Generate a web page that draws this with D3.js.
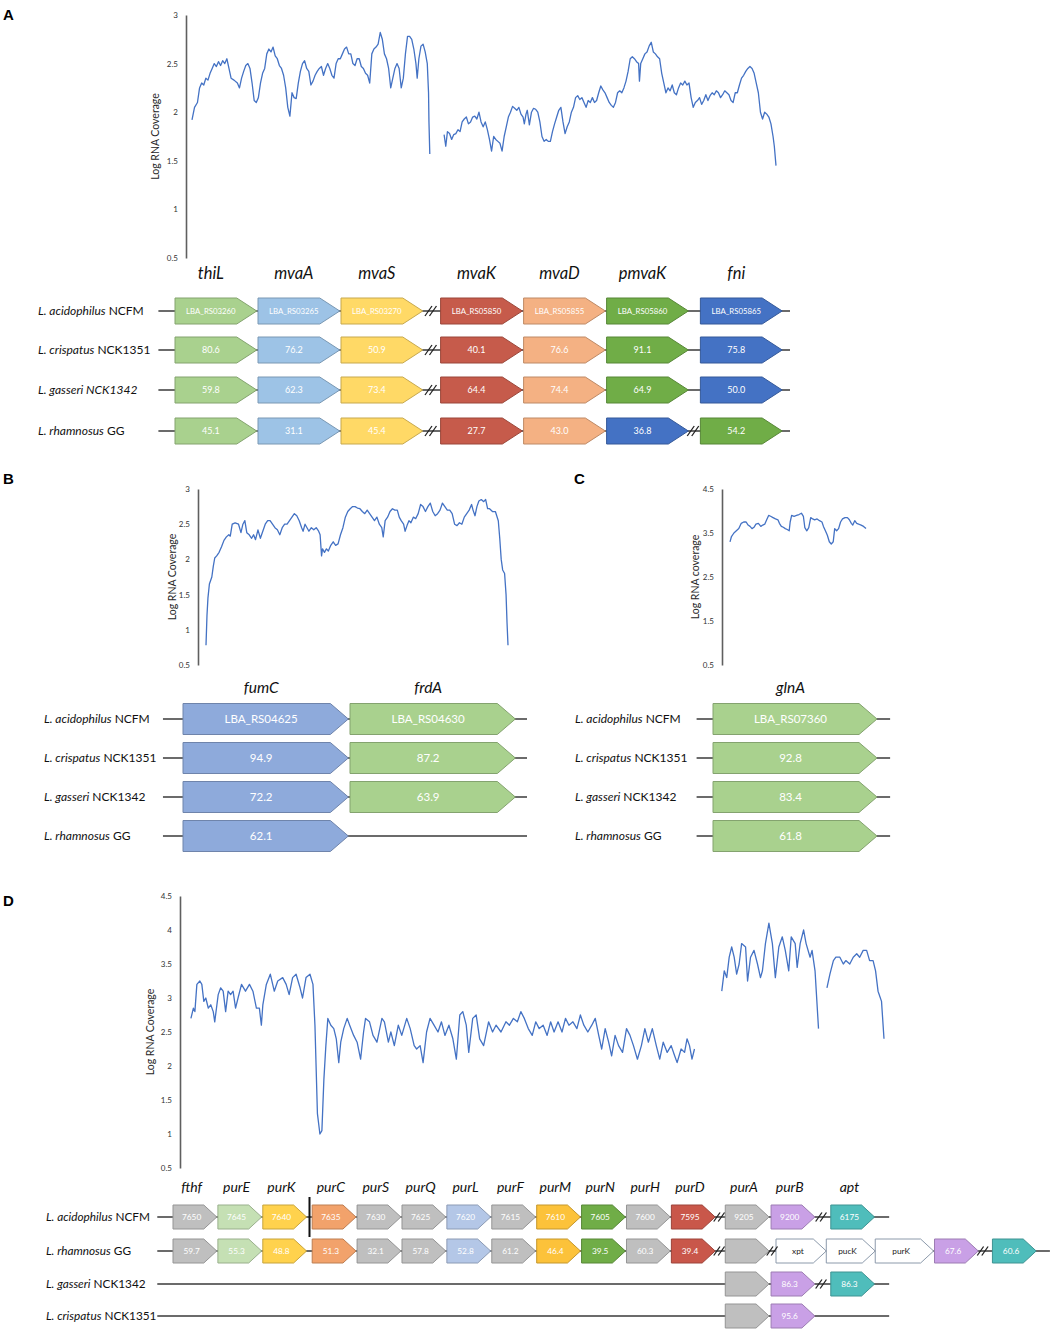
<!DOCTYPE html>
<html lang="en">
<head>
<meta charset="UTF-8">
<title>RNA coverage and gene neighbourhoods</title>
<script src="https://d3js.org/d3.v7.min.js"></script>
<style>
  body { margin: 0; background: #fff; }
  svg { display: block; font-family: Lato, "Open Sans", sans-serif; }
  .panel-label { font-family: "Liberation Sans", Arial, sans-serif; font-weight: bold; font-size: 15px; }
  .ytitle { font-size: 10.5px; fill: #262626; }
  .gene { font-style: italic; fill: #111; }
  .species { fill: #111; }
</style>
</head>
<body>
<svg id="fig" width="1052" height="1339"></svg>
<script>
// ---- coverage traces: [relative position, log RNA coverage] ----
const covA1 = [[122,1.92],[128,2.05],[135,2.1],[140,2.25],[145,2.3],[150,2.28],[155,2.35],[160,2.33],[165,2.4],[170,2.45],[175,2.5],[180,2.47],[185,2.52],[190,2.48],[195,2.53],[200,2.5],[205,2.55],[210,2.45],[215,2.35],[222,2.33],[230,2.3],[235,2.25],[240,2.35],[245,2.42],[250,2.48],[255,2.5],[260,2.45],[265,2.3],[270,2.12],[275,2.1],[280,2.15],[285,2.3],[290,2.4],[295,2.45],[300,2.6],[305,2.65],[310,2.62],[315,2.67],[320,2.58],[325,2.55],[330,2.48],[335,2.45],[340,2.38],[345,2.25],[350,2.05],[355,1.96],[360,2.2],[365,2.15],[370,2.14],[375,2.3],[380,2.42],[385,2.5],[390,2.53],[395,2.45],[400,2.42],[405,2.28],[410,2.32],[415,2.38],[420,2.42],[425,2.45],[430,2.47],[435,2.38],[440,2.45],[445,2.5],[450,2.45],[455,2.38],[460,2.35],[465,2.5],[470,2.55],[475,2.55],[480,2.6],[485,2.65],[490,2.67],[495,2.6],[500,2.6],[505,2.5],[510,2.48],[515,2.55],[520,2.55],[525,2.47],[530,2.45],[535,2.4],[540,2.38],[545,2.3],[550,2.6],[555,2.65],[560,2.67],[565,2.7],[570,2.82],[575,2.75],[580,2.6],[585,2.55],[590,2.45],[595,2.25],[600,2.35],[605,2.45],[610,2.5],[615,2.45],[620,2.25],[625,2.35],[630,2.6],[635,2.78],[640,2.78],[645,2.75],[650,2.65],[655,2.5],[658,2.35],[662,2.55],[667,2.68],[672,2.7],[677,2.62],[682,2.5],[685,2.2],[686,1.9],[688,1.57]];
const covA2 = [[722,1.77],[726,1.65],[730,1.8],[735,1.78],[740,1.72],[745,1.77],[750,1.78],[755,1.82],[760,1.8],[765,1.9],[770,1.93],[775,1.95],[780,1.88],[785,1.9],[790,1.95],[795,1.96],[800,1.93],[805,2.0],[810,1.9],[815,1.85],[820,1.9],[825,1.82],[830,1.72],[835,1.6],[840,1.75],[845,1.72],[850,1.7],[855,1.68],[860,1.6],[865,1.75],[870,1.85],[875,1.95],[880,2.0],[885,2.06],[890,2.04],[895,2.02],[900,2.05],[905,1.98],[910,1.95],[913,1.88],[917,1.98],[920,2.02],[925,1.87],[930,2.0],[935,2.04],[940,2.03],[945,2.0],[950,1.9],[955,1.75],[960,1.7],[965,1.72],[970,1.7],[975,1.7],[980,1.8],[985,1.88],[990,1.95],[995,2.02],[1000,2.05],[1005,1.9],[1010,1.78],[1015,1.85],[1020,1.9],[1025,2.0],[1030,2.05],[1035,2.15],[1040,2.17],[1045,2.13],[1050,2.15],[1055,2.1],[1060,2.05],[1065,2.12],[1070,2.1],[1075,2.15],[1080,2.1],[1085,2.12],[1090,2.2],[1095,2.27],[1100,2.23],[1105,2.2],[1110,2.15],[1115,2.1],[1120,2.07],[1125,2.05],[1130,2.1],[1135,2.2],[1140,2.22],[1145,2.2],[1150,2.25],[1155,2.32],[1160,2.42],[1165,2.55],[1170,2.57],[1175,2.55],[1180,2.52],[1185,2.5],[1187,2.32],[1190,2.5],[1195,2.55],[1200,2.6],[1205,2.62],[1210,2.68],[1215,2.72],[1220,2.62],[1225,2.6],[1230,2.57],[1235,2.55],[1240,2.4],[1245,2.3],[1250,2.2],[1255,2.25],[1260,2.22],[1265,2.28],[1270,2.2],[1275,2.18],[1280,2.25],[1285,2.3],[1290,2.28],[1295,2.32],[1300,2.28],[1305,2.3],[1310,2.15],[1315,2.05],[1320,2.1],[1325,2.12],[1330,2.15],[1335,2.08],[1340,2.12],[1345,2.18],[1350,2.12],[1355,2.17],[1360,2.2],[1365,2.18],[1370,2.22],[1375,2.2],[1380,2.15],[1385,2.18],[1390,2.22],[1395,2.2],[1400,2.18],[1405,2.12],[1410,2.1],[1415,2.2],[1420,2.2],[1425,2.28],[1430,2.35],[1435,2.38],[1440,2.42],[1445,2.45],[1450,2.47],[1455,2.45],[1460,2.4],[1465,2.3],[1470,2.2],[1475,2.0],[1480,1.93],[1485,2.0],[1490,1.98],[1495,1.95],[1500,1.88],[1505,1.75],[1508,1.65],[1512,1.45]];
const covB = [[118,0.78],[120,1.2],[122,1.45],[125,1.65],[130,1.75],[133,1.9],[136,2.02],[140,2.05],[145,2.1],[150,2.18],[155,2.27],[160,2.32],[165,2.35],[168,2.33],[172,2.5],[178,2.52],[185,2.5],[190,2.38],[194,2.5],[198,2.55],[202,2.38],[207,2.35],[212,2.3],[216,2.35],[220,2.28],[225,2.42],[230,2.3],[235,2.4],[240,2.5],[245,2.55],[250,2.55],[255,2.5],[260,2.45],[265,2.42],[270,2.35],[275,2.45],[280,2.5],[285,2.5],[290,2.55],[295,2.6],[300,2.65],[305,2.62],[310,2.55],[315,2.45],[318,2.4],[322,2.5],[326,2.45],[330,2.4],[335,2.45],[340,2.42],[345,2.45],[350,2.4],[353,2.35],[356,2.05],[358,2.15],[362,2.1],[366,2.15],[370,2.12],[375,2.2],[380,2.25],[385,2.2],[390,2.22],[395,2.35],[400,2.45],[405,2.6],[410,2.68],[415,2.72],[420,2.75],[425,2.75],[430,2.73],[435,2.72],[440,2.68],[445,2.65],[450,2.7],[455,2.65],[460,2.6],[465,2.55],[470,2.6],[475,2.5],[480,2.45],[483,2.32],[487,2.55],[492,2.6],[497,2.68],[502,2.72],[507,2.7],[512,2.7],[516,2.6],[520,2.55],[525,2.5],[528,2.4],[532,2.48],[536,2.55],[540,2.52],[545,2.6],[550,2.58],[555,2.65],[560,2.78],[565,2.75],[570,2.68],[575,2.75],[580,2.8],[585,2.68],[590,2.62],[595,2.65],[600,2.7],[605,2.8],[610,2.75],[615,2.7],[620,2.7],[625,2.65],[630,2.5],[635,2.48],[640,2.52],[645,2.5],[650,2.6],[655,2.65],[660,2.7],[665,2.78],[668,2.7],[672,2.62],[676,2.75],[680,2.83],[685,2.85],[690,2.82],[694,2.85],[698,2.72],[702,2.72],[708,2.68],[714,2.68],[720,2.55],[723,2.3],[726,2.0],[729,1.85],[733,1.8],[736,1.5],[738,1.1],[740,0.78]];
const covC = [[1197,3.3],[1200,3.42],[1205,3.5],[1210,3.55],[1215,3.6],[1220,3.72],[1225,3.75],[1230,3.75],[1234,3.68],[1238,3.65],[1242,3.6],[1246,3.63],[1250,3.7],[1255,3.72],[1260,3.65],[1264,3.68],[1268,3.7],[1272,3.8],[1276,3.9],[1280,3.88],[1285,3.85],[1290,3.82],[1295,3.8],[1298,3.72],[1302,3.65],[1306,3.63],[1310,3.6],[1314,3.58],[1318,3.55],[1320,3.75],[1323,3.9],[1328,3.88],[1333,3.9],[1338,3.92],[1343,3.95],[1347,3.88],[1350,3.62],[1354,3.55],[1358,3.62],[1362,3.85],[1366,3.82],[1370,3.8],[1375,3.82],[1380,3.78],[1385,3.75],[1388,3.65],[1392,3.55],[1396,3.45],[1400,3.3],[1404,3.25],[1408,3.3],[1411,3.6],[1415,3.55],[1419,3.6],[1423,3.75],[1427,3.82],[1432,3.85],[1437,3.85],[1441,3.8],[1445,3.72],[1448,3.68],[1452,3.78],[1456,3.72],[1460,3.7],[1465,3.68],[1470,3.65],[1475,3.6]];
const covD1 = [[120,2.7],[125,2.85],[128,2.8],[132,3.2],[138,3.25],[142,3.2],[146,2.95],[150,3.0],[155,2.85],[160,2.9],[165,2.8],[168,2.65],[175,3.05],[180,3.15],[185,3.1],[190,2.8],[195,3.1],[200,3.05],[205,3.1],[210,2.85],[215,3.0],[222,3.2],[230,3.1],[238,3.2],[245,3.1],[252,2.85],[258,2.85],[262,2.6],[265,2.9],[272,3.2],[280,3.35],[288,3.1],[295,3.25],[305,3.3],[312,3.2],[318,3.05],[325,3.3],[332,3.35],[340,3.15],[345,3.0],[352,3.3],[360,3.35],[366,3.2],[370,2.6],[375,1.3],[380,1.0],[384,1.05],[388,1.8],[392,2.3],[396,2.7],[402,2.6],[408,2.55],[413,2.4],[418,2.05],[422,2.35],[428,2.55],[435,2.7],[440,2.6],[448,2.45],[455,2.35],[462,2.1],[468,2.5],[472,2.7],[480,2.65],[487,2.45],[495,2.35],[505,2.7],[510,2.65],[518,2.35],[523,2.5],[530,2.3],[538,2.6],[545,2.45],[555,2.7],[562,2.55],[570,2.3],[575,2.25],[582,2.3],[588,2.05],[595,2.5],[602,2.7],[610,2.6],[618,2.5],[625,2.65],[632,2.45],[640,2.6],[648,2.4],[655,2.1],[662,2.75],[668,2.8],[675,2.6],[680,2.2],[688,2.7],[695,2.75],[702,2.4],[710,2.3],[720,2.65],[728,2.5],[735,2.6],[745,2.5],[755,2.65],[762,2.6],[770,2.7],[778,2.65],[785,2.8],[792,2.7],[800,2.55],[808,2.45],[815,2.65],[822,2.55],[830,2.6],[838,2.45],[845,2.65],[852,2.5],[860,2.65],[868,2.5],[875,2.7],[882,2.6],[890,2.65],[898,2.55],[905,2.75],[912,2.6],[920,2.5],[928,2.6],[935,2.7],[942,2.45],[948,2.25],[955,2.55],[962,2.35],[968,2.15],[975,2.45],[982,2.3],[990,2.2],[998,2.55],[1005,2.45],[1012,2.3],[1020,2.1],[1028,2.3],[1035,2.55],[1042,2.35],[1050,2.55],[1058,2.3],[1065,2.1],[1072,2.35],[1080,2.2],[1088,2.3],[1095,2.15],[1100,2.05],[1108,2.25],[1115,2.2],[1120,2.4],[1125,2.3],[1130,2.1],[1135,2.25]];
const covD2 = [[1190,3.1],[1195,3.4],[1200,3.3],[1205,3.6],[1210,3.75],[1215,3.6],[1220,3.35],[1225,3.5],[1230,3.8],[1238,3.75],[1242,3.25],[1248,3.6],[1255,3.7],[1262,3.5],[1268,3.3],[1272,3.4],[1278,3.8],[1285,4.1],[1292,3.8],[1298,3.3],[1305,3.75],[1312,3.9],[1318,3.7],[1325,3.4],[1330,3.9],[1338,3.8],[1342,3.45],[1348,3.8],[1355,4.0],[1360,3.8],[1368,3.6],[1372,3.7],[1378,3.4],[1385,2.55]];
const covD3 = [[1402,3.15],[1408,3.35],[1415,3.55],[1420,3.6],[1428,3.6],[1435,3.5],[1440,3.55],[1448,3.5],[1455,3.6],[1462,3.65],[1468,3.6],[1475,3.7],[1482,3.7],[1488,3.55],[1495,3.55],[1500,3.4],[1505,3.1],[1512,2.95],[1517,2.4]];

// ---- axis ticks ----
const ticksA = [0.5, 1, 1.5, 2, 2.5, 3];
const ticksB = [0.5, 1, 1.5, 2, 2.5, 3];
const ticksC = [0.5, 1.5, 2.5, 3.5, 4.5];
const ticksD = [0.5, 1, 1.5, 2, 2.5, 3, 3.5, 4, 4.5];

// ---- species ----
const speciesA = [["L. acidophilus", " NCFM"], ["L. crispatus", " NCK1351"], ["L. gasseri NCK1342", ""], ["L. rhamnosus", " GG"]];
const speciesB = [["L. acidophilus", " NCFM"], ["L. crispatus", " NCK1351"], ["L. gasseri", " NCK1342"], ["L. rhamnosus", " GG"]];
const speciesD = [["L. acidophilus", " NCFM"], ["L. rhamnosus", " GG"], ["L. gasseri", " NCK1342"], ["L. crispatus", " NCK1351"]];

// ---- panel A genes ----
const genesA = ["thiL", "mvaA", "mvaS", "mvaK", "mvaD", "pmvaK", "fni"];
const locusA = ["LBA_RS03260", "LBA_RS03265", "LBA_RS03270", "LBA_RS05850", "LBA_RS05855", "LBA_RS05860", "LBA_RS05865"];
const crispatusA = ["80.6", "76.2", "50.9", "40.1", "76.6", "91.1", "75.8"];
const gasseriA = ["59.8", "62.3", "73.4", "64.4", "74.4", "64.9", "50.0"];
const rhamnosusA = ["45.1", "31.1", "45.4", "27.7", "43.0", "36.8", "54.2"];

// ---- panel B / C genes ----
const genesB = ["fumC", "frdA"];
const locusB = ["LBA_RS04625", "LBA_RS04630"];
const crispatusB = ["94.9", "87.2"];
const gasseriB = ["72.2", "63.9"];
const rhamnosusB = ["62.1"];
const genesC = ["glnA"];
const identC = ["LBA_RS07360", "92.8", "83.4", "61.8"];

// ---- panel D genes ----
const genesD = ["fthf", "purE", "purK", "purC", "purS", "purQ", "purL", "purF", "purM", "purN", "purH", "purD", "purA", "purB", "apt"];
const locusD = ["7650", "7645", "7640", "7635", "7630", "7625", "7620", "7615", "7610", "7605", "7600", "7595", "9205", "9200", "6175"];
const rhamnosusD = ["59.7", "55.3", "48.8", "51.3", "32.1", "57.8", "52.8", "61.2", "46.4", "39.5", "60.3", "39.4", ""];
const rhamnosusExtraD = ["xpt", "pucK", "purK"];
const rhamnosusTailD = ["67.6", "60.6"];
const gasseriD = ["", "86.3", "86.3"];
const crispatusD = ["", "95.6"];

// ================= drawing =================
const svg = d3.select("#fig");
const LINE = "#4472c4";

function panelLabel(t, x, y) {
  svg.append("text").attr("class", "panel-label").attr("x", x).attr("y", y).text(t);
}

function coveragePlot(o) {
  const y = d3.scaleLinear().domain(o.yDomain).range([o.yBottom, o.yTop]);
  const x = d3.scaleLinear().domain(o.xDomain).range(o.xRange);
  const g = svg.append("g").attr("transform", `translate(${o.axisX},0)`)
    .call(d3.axisLeft(y).tickValues(o.ticks).tickSize(0).tickSizeOuter(0).tickPadding(8).tickFormat(d3.format("~g")));
  g.select(".domain").attr("stroke", "#5f5f5f").attr("stroke-width", 1.6);
  g.selectAll(".tick text").attr("font-size", 8).attr("fill", "#333").attr("font-family", "Lato, sans-serif");
  const line = d3.line().x(d => x(d[0])).y(d => y(d[1]));
  o.segments.forEach(s => {
    svg.append("path").datum(s).attr("d", line)
      .attr("fill", "none").attr("stroke", LINE).attr("stroke-width", 1.3).attr("stroke-linejoin", "round");
  });
  svg.append("text").attr("class", "ytitle")
    .attr("transform", `translate(${o.titleX},${(o.yTop + o.yBottom) / 2}) rotate(-90)`)
    .attr("text-anchor", "middle").attr("dy", "0.35em").text(o.title);
}

function arrowPath(x0, x1, yc, h, tip) {
  return `M${x0},${yc - h / 2}H${x1 - tip}L${x1},${yc}L${x1 - tip},${yc + h / 2}H${x0}Z`;
}

function speciesLabel(x, y, sp, size) {
  const t = svg.append("text").attr("class", "species").attr("x", x).attr("y", y)
    .attr("dy", "0.35em").attr("font-size", size);
  t.append("tspan").attr("font-style", "italic").text(sp[0]);
  if (sp[1]) t.append("tspan").text(sp[1]);
}

function breakMark(x, y, s) {
  [-3, 1.5].forEach(dx => {
    svg.append("line").attr("x1", x + dx - s * 0.35).attr("y1", y + s / 2)
      .attr("x2", x + dx + s * 0.35).attr("y2", y - s / 2)
      .attr("stroke", "#222").attr("stroke-width", 1.3);
  });
}

// map = {x: scale(slot->px), h, tip, font, rows:[{y, line:[a,b], arrows:[{slot,w,fill,text,dark}], breaks:[slot]}]}
function geneMap(m) {
  m.rows.forEach(r => {
    svg.append("line").attr("x1", m.x(r.line[0])).attr("x2", m.x(r.line[1]))
      .attr("y1", r.y).attr("y2", r.y).attr("stroke", "#3a3a3a").attr("stroke-width", 1.4);
    r.arrows.forEach(a => {
      const x0 = m.x(a.slot), x1 = m.x(a.slot + a.w);
      const fill = a.fill;
      svg.append("path").attr("d", arrowPath(x0, x1, r.y, m.h, m.tip))
        .attr("fill", fill)
        .attr("stroke", a.dark ? "#8c9aab" : d3.color(fill).darker(0.7))
        .attr("stroke-width", 1);
      if (a.text) {
        svg.append("text").attr("x", x0 + (x1 - x0 - m.tip / 2) / 2).attr("y", r.y)
          .attr("dy", "0.35em").attr("text-anchor", "middle")
          .attr("font-size", a.font || m.font).attr("fill", a.dark ? "#222" : "#fff")
          .text(a.text);
      }
    });
    (r.breaks || []).forEach(b => breakMark(m.x(b), r.y, m.breakSize));
  });
}

function geneLabels(x, slots, w, tip, names, y, size) {
  names.forEach((n, i) => {
    const x0 = x(slots[i]), x1 = x(slots[i] + w);
    svg.append("text").attr("class", "gene").attr("x", x0 + (x1 - x0 - tip / 2) / 2).attr("y", y)
      .attr("text-anchor", "middle").attr("font-size", size).text(n);
  });
}

// ---------- Panel A ----------
panelLabel("A", 3, 20);
coveragePlot({
  axisX: 186, yTop: 15, yBottom: 258, yDomain: [0.5, 3], ticks: ticksA,
  xDomain: [122, 1512], xRange: [192, 776], segments: [covA1, covA2],
  title: "Log RNA Coverage", titleX: 155
});

const colA = ["#a9d18e", "#9dc3e6", "#ffd966", "#c65b4b", "#f4b183", "#70ad47", "#4472c4"];
const slotA = [0, 1, 2, 3.2, 4.2, 5.2, 6.33];
const xA = d3.scaleLinear().domain([0, 1]).range([175, 258]);
const wA = 0.985;
const rowsA = [311, 350, 390, 431];
const textsA = [locusA, crispatusA, gasseriA, rhamnosusA];
geneLabels(xA, slotA, wA, 20, genesA, 279, 16.5);
speciesA.forEach((sp, i) => speciesLabel(38, rowsA[i], sp, 12));
geneMap({
  x: xA, h: 26, tip: 20, font: 9, breakSize: 10,
  rows: rowsA.map((y, i) => ({
    y, line: [-0.2, 7.41],
    arrows: slotA.map((s, j) => ({
      slot: s, w: wA, text: textsA[i][j], font: i === 0 ? 7.8 : 9,
      fill: i === 3 && j >= 5 ? colA[j === 5 ? 6 : 5] : colA[j]
    })),
    breaks: i === 3 ? [3.09, 6.25] : [3.09]
  }))
});

// ---------- Panel B ----------
panelLabel("B", 3, 484);
coveragePlot({
  axisX: 198, yTop: 489, yBottom: 665, yDomain: [0.5, 3], ticks: ticksB,
  xDomain: [118, 740], xRange: [206, 508], segments: [covB],
  title: "Log RNA Coverage", titleX: 172
});
const xB = d3.scaleLinear().domain([0, 1]).range([183, 350]);
const colB = ["#8eaadb", "#a9d18e"];
const rowsBC = [719, 758, 797, 836];
const textsB = [locusB, crispatusB, gasseriB, rhamnosusB];
geneLabels(xB, [0, 1], 0.99, 18, genesB, 693, 15.5);
speciesB.forEach((sp, i) => speciesLabel(44, rowsBC[i], sp, 12));
geneMap({
  x: xB, h: 31, tip: 18, font: 11.5, breakSize: 10,
  rows: rowsBC.map((y, i) => ({
    y, line: [-0.12, 2.06],
    arrows: textsB[i].map((t, j) => ({ slot: j, w: 0.99, text: t, fill: colB[j] }))
  }))
});

// ---------- Panel C ----------
panelLabel("C", 574, 484);
coveragePlot({
  axisX: 722, yTop: 489, yBottom: 665, yDomain: [0.5, 4.5], ticks: ticksC,
  xDomain: [1197, 1475], xRange: [730, 866], segments: [covC],
  title: "Log RNA coverage", titleX: 695
});
const xC = d3.scaleLinear().domain([0, 1]).range([713, 877]);
geneLabels(xC, [0], 1, 18, genesC, 693, 15.5);
speciesB.forEach((sp, i) => speciesLabel(575, rowsBC[i], sp, 12));
geneMap({
  x: xC, h: 31, tip: 18, font: 11.5, breakSize: 10,
  rows: rowsBC.map((y, i) => ({
    y, line: [-0.1, 1.08],
    arrows: [{ slot: 0, w: 1, text: identC[i], fill: "#a9d18e" }]
  }))
});

// ---------- Panel D ----------
panelLabel("D", 3, 906);
coveragePlot({
  axisX: 180, yTop: 896, yBottom: 1168, yDomain: [0.5, 4.5], ticks: ticksD,
  xDomain: [98, 1517], xRange: [180, 884], segments: [covD1, covD2, covD3],
  title: "Log RNA Coverage", titleX: 150
});
const xD = d3.scaleLinear().domain([0, 1]).range([173, 217.9]);
const slotD = [0, 1, 2, 3.1, 4.1, 5.1, 6.1, 7.1, 8.1, 9.1, 10.1, 11.1, 12.3, 13.32, 14.65];
const colD = ["#bfbfbf", "#c5e0b4", "#ffd24d", "#f2a26b", "#bfbfbf", "#bfbfbf", "#b4c7e7", "#bfbfbf",
              "#fcc23a", "#70ad47", "#bfbfbf", "#c9574a", "#bfbfbf", "#c9a0e6", "#4fbdbb"];
const wD = 0.975;
const rowsD = [1217, 1251, 1284, 1316];
geneLabels(xD, slotD, wD, 13, genesD, 1192, 14);
speciesD.forEach((sp, i) => speciesLabel(46, rowsD[i], sp, 11.8));

const rowD1 = slotD.map((s, j) => ({ slot: s, w: wD, text: locusD[j], fill: colD[j] }));
const rowD2 = rhamnosusD.map((t, j) => ({ slot: slotD[j], w: wD, text: t, fill: colD[j] }))
  .concat([
    { slot: 13.43, w: 1.12, text: rhamnosusExtraD[0], fill: "#ffffff", dark: true },
    { slot: 14.55, w: 1.09, text: rhamnosusExtraD[1], fill: "#ffffff", dark: true },
    { slot: 15.64, w: 1.3, text: rhamnosusExtraD[2], fill: "#ffffff", dark: true },
    { slot: 16.96, w: wD, text: rhamnosusTailD[0], fill: colD[13] },
    { slot: 18.25, w: wD, text: rhamnosusTailD[1], fill: colD[14] }
  ]);
const rowD3 = gasseriD.map((t, j) => ({ slot: slotD[12 + j], w: wD, text: t, fill: colD[12 + j] }));
const rowD4 = crispatusD.map((t, j) => ({ slot: slotD[12 + j], w: wD, text: t, fill: colD[12 + j] }));

geneMap({
  x: xD, h: 24, tip: 13, font: 8.3, breakSize: 9,
  rows: [
    { y: rowsD[0], line: [-0.35, 15.95], arrows: rowD1, breaks: [12.18, 14.45] },
    { y: rowsD[1], line: [-0.35, 19.53], arrows: rowD2, breaks: [12.18, 13.36, 18.05] },
    { y: rowsD[2], line: [-0.35, 15.95], arrows: rowD3, breaks: [14.45] },
    { y: rowsD[3], line: [-0.35, 15.95], arrows: rowD4 }
  ]
});
// promoter/terminator bar between purK and purC
svg.append("line").attr("x1", xD(3.04)).attr("x2", xD(3.04))
  .attr("y1", 1197).attr("y2", 1237).attr("stroke", "#111").attr("stroke-width", 2);
</script>
</body>
</html>
